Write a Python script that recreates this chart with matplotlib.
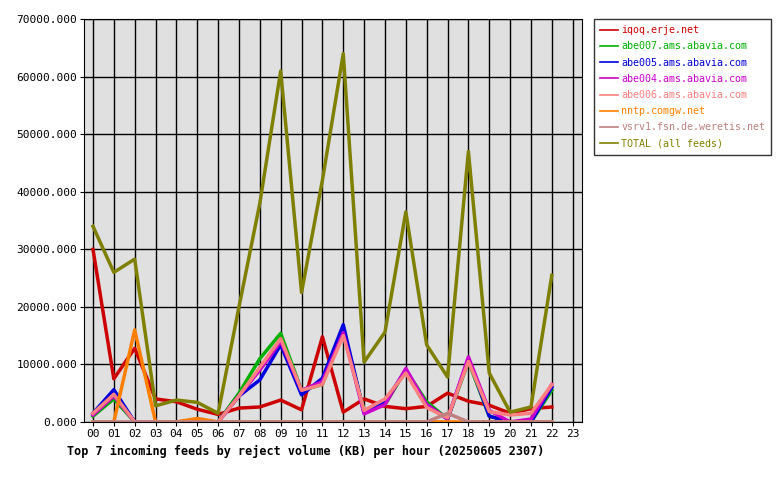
import matplotlib
matplotlib.use("Agg")
import matplotlib.pyplot as plt

hours = [f"{h:02d}" for h in range(24)]

iqoq = [30000, 7500, 12800, 4000, 3500, 2200, 1300, 2400, 2600, 3800, 2100, 14800,
        1700, 4000, 2700, 2300, 2700, 5000, 3600, 2900, 1500, 2300, 2600]
abe007 = [1000, 4000, 0, 0, 0, 0, 0, 5000, 11000, 15400, 5500, 6500,
          16000, 1800, 3000, 9000, 3500, 500, 10500, 1000, 0, 0, 5500]
abe005 = [1500, 5600, 0, 0, 0, 0, 0, 4500, 7300, 13400, 4700, 7600,
          16900, 1500, 3500, 9000, 3000, 500, 11000, 1000, 0, 0, 6000]
abe004 = [1200, 4500, 0, 0, 0, 0, 0, 4500, 9000, 14000, 5500, 7000,
          15500, 1400, 3000, 9300, 3000, 500, 11300, 2000, 0, 500, 6500]
abe006 = [1500, 4800, 0, 0, 0, 0, 0, 4500, 9500, 14500, 5500, 6500,
          15000, 2000, 4000, 8500, 2500, 700, 10500, 1800, 1200, 1500, 6500]
nntp = [0, 0, 16000, 0, 0, 600, 0, 0, 0, 0, 0, 0,
        0, 0, 0, 0, 0, 0, 0, 0, 0, 0, 0]
vsrv1 = [0, 0, 0, 0, 0, 0, 0, 0, 0, 0, 0, 0,
         0, 0, 0, 0, 0, 1500, 0, 0, 0, 0, 0]
total = [34000, 26000, 28300, 2800, 3800, 3400, 1500, 20000, 38000, 61000, 22500, 42000,
         64000, 10400, 15600, 36500, 13400, 7800, 47000, 8500, 1700, 2600, 25500]

series = [
    ("iqoq.erje.net", iqoq, "#cc0000"),
    ("abe007.ams.abavia.com", abe007, "#00b000"),
    ("abe005.ams.abavia.com", abe005, "#0000dd"),
    ("abe004.ams.abavia.com", abe004, "#cc00cc"),
    ("abe006.ams.abavia.com", abe006, "#ff8080"),
    ("nntp.comgw.net", nntp, "#ff8000"),
    ("vsrv1.fsn.de.weretis.net", vsrv1, "#c08080"),
    ("TOTAL (all feeds)", total, "#808000"),
]

plt.rcParams["font.family"] = "DejaVu Sans Mono"
plt.rcParams["font.size"] = 8

fig = plt.figure(figsize=(7.8, 4.8), dpi=100)
ax = fig.add_axes([0.1077, 0.121, 0.638, 0.839])
ax.set_facecolor("#e0e0e0")

x = list(range(len(total)))
handles = []
for name, vals, col in series:
    ln, = ax.plot(x, vals, color=col, lw=2.5, label=name)
    handles.append(ln)

ax.set_xlim(-0.43, 23.43)
ax.set_ylim(0, 70000)
ax.set_xticks(range(24))
ax.set_xticklabels(hours)
ax.set_yticks(range(0, 70001, 10000))
ax.set_yticklabels([f"{v}.000" for v in range(0, 70001, 10000)])
ax.grid(True, color="black", lw=1)
ax.set_axisbelow(True)
ax.tick_params(length=3, pad=2)
for s in ax.spines.values():
    s.set_color("black")

leg = fig.legend(handles=handles, loc="upper left", bbox_to_anchor=(0.762, 0.96),
                 frameon=True, fancybox=False, edgecolor="black", handlelength=1.8,
                 handletextpad=0.3, borderpad=0.6, labelspacing=0.62, fontsize=7.2,
                 borderaxespad=0)
for t, (_, _, col) in zip(leg.get_texts(), series):
    t.set_color(col)
for h in leg.get_lines():
    h.set_linewidth(1.2)

fig.text(0.086, 0.052, "Top 7 incoming feeds by reject volume (KB) per hour (20250605 2307)",
         fontweight="bold", fontsize=8.5)

fig.savefig("out.png", dpi=100)
